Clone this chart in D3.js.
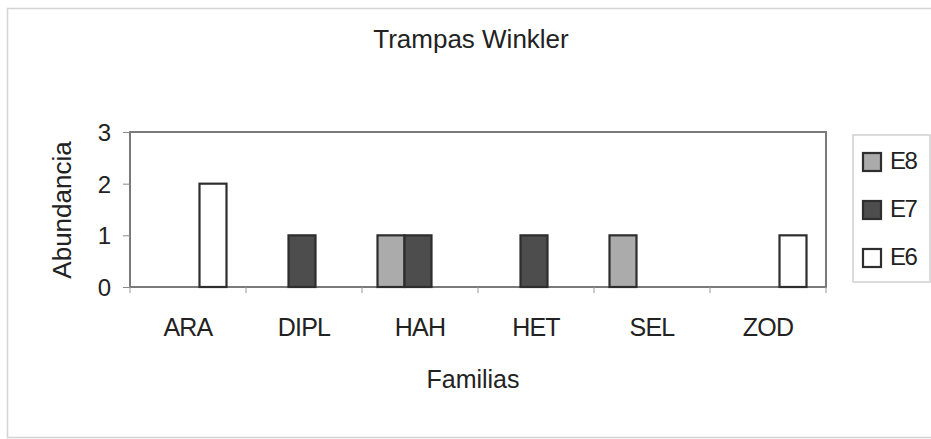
<!DOCTYPE html>
<html>
<head>
<meta charset="utf-8">
<script src="https://cdn.jsdelivr.net/npm/d3@7"></script>
<style>
  body { margin: 0; background: #fff; }
  svg { font-family: "Liberation Sans", Arial, sans-serif; fill: #222; }
</style>
</head>
<body>
<svg width="931" height="439"></svg>
<script>
var svg = d3.select("svg");

// data
var familias = ["ARA", "DIPL", "HAH", "HET", "SEL", "ZOD"];
var series = ["E8", "E7", "E6"];
var e8 = [0, 0, 1, 0, 1, 0];
var e7 = [0, 1, 1, 1, 0, 0];
var e6 = [2, 0, 0, 0, 0, 1];
var yTicks = [0, 1, 2, 3];

var valores = { E8: e8, E7: e7, E6: e6 };
var relleno = { E8: "#ababab", E7: "#4d4d4d", E6: "#ffffff" };

var plot = { left: 130, right: 826, top: 132, bottom: 287 };

// outer frame
svg.append("rect")
    .attr("x", 7.5).attr("y", 8.5)
    .attr("width", 940).attr("height", 429)
    .attr("fill", "none")
    .attr("stroke", "#d4d4d4")
    .attr("stroke-width", 1.5);

var x0 = d3.scaleBand()
    .domain(familias)
    .range([plot.left, plot.right]);

// bars sit a touch left of the band centre in the scan
var grupo = 81, corr = -2;
var x1 = d3.scaleBand()
    .domain(series)
    .range([(x0.bandwidth() - grupo) / 2 + corr, (x0.bandwidth() + grupo) / 2 + corr]);

var y = d3.scaleLinear()
    .domain([0, 3])
    .range([plot.bottom, plot.top]);

// plot border
svg.append("rect")
    .attr("x", plot.left).attr("y", plot.top)
    .attr("width", plot.right - plot.left)
    .attr("height", plot.bottom - plot.top)
    .attr("fill", "none")
    .attr("stroke", "#7a7a7a")
    .attr("stroke-width", 2);

// bars
var filas = [];
familias.forEach(function(f, i) {
    series.forEach(function(s) {
        if (valores[s][i] > 0) filas.push({ fam: f, serie: s, v: valores[s][i] });
    });
});

svg.append("g").selectAll("rect")
    .data(filas)
    .enter().append("rect")
    .attr("x", function(d) { return x0(d.fam) + x1(d.serie); })
    .attr("y", function(d) { return y(d.v); })
    .attr("width", x1.bandwidth())
    .attr("height", function(d) { return y(0) - y(d.v); })
    .attr("fill", function(d) { return relleno[d.serie]; })
    .attr("stroke", "#2e2e2e")
    .attr("stroke-width", 2.2);

// y axis
var ya = svg.append("g")
    .attr("transform", "translate(" + plot.left + ",0)")
    .call(d3.axisLeft(y).tickValues(yTicks).tickFormat(d3.format("d"))
        .tickSize(7).tickPadding(12));
ya.select(".domain").remove();
ya.selectAll("line").attr("stroke", "#888");
ya.selectAll("text")
    .attr("font-size", 24)
    .attr("fill", "#222")
    .attr("dy", "0.36em");

// x axis: ticks on category boundaries
var xa = svg.append("g")
    .attr("transform", "translate(0," + plot.bottom + ")");
xa.selectAll("line")
    .data(familias.concat(["fin"]))
    .enter().append("line")
    .attr("x1", function(d, i) { return plot.left + i * x0.step(); })
    .attr("x2", function(d, i) { return plot.left + i * x0.step(); })
    .attr("y1", 0).attr("y2", 6)
    .attr("stroke", "#999");
xa.selectAll("text")
    .data(familias)
    .enter().append("text")
    .attr("x", function(d) { return x0(d) + x0.bandwidth() / 2; })
    .attr("y", 49)
    .attr("text-anchor", "middle")
    .attr("font-size", 25)
    .attr("letter-spacing", -0.8)
    .attr("fill", "#222")
    .text(function(d) { return d; });

// titles
svg.append("text")
    .attr("x", 471).attr("y", 48)
    .attr("text-anchor", "middle")
    .attr("font-size", 26)
    .attr("fill", "#222")
    .text("Trampas Winkler");

svg.append("text")
    .attr("x", 473).attr("y", 388)
    .attr("text-anchor", "middle")
    .attr("font-size", 25)
    .attr("fill", "#222")
    .text("Familias");

svg.append("text")
    .attr("transform", "translate(71,210) rotate(-90)")
    .attr("text-anchor", "middle")
    .attr("font-size", 26)
    .attr("fill", "#222")
    .text("Abundancia");

// legend
var leg = svg.append("g");
leg.append("rect")
    .attr("x", 853).attr("y", 135)
    .attr("width", 77).attr("height", 147)
    .attr("fill", "#fff")
    .attr("stroke", "#cfcfcf")
    .attr("stroke-width", 1.5);

var items = leg.selectAll("g.item")
    .data(series)
    .enter().append("g")
    .attr("class", "item")
    .attr("transform", function(d, i) { return "translate(863," + (153 + i * 48) + ")"; });
items.append("rect")
    .attr("width", 18).attr("height", 18)
    .attr("fill", function(d) { return relleno[d]; })
    .attr("stroke", "#2e2e2e")
    .attr("stroke-width", 2.2);
items.append("text")
    .attr("x", 27).attr("y", 16)
    .attr("font-size", 24)
    .attr("letter-spacing", -1.5)
    .attr("fill", "#222")
    .text(function(d) { return d; });
</script>
</body>
</html>
